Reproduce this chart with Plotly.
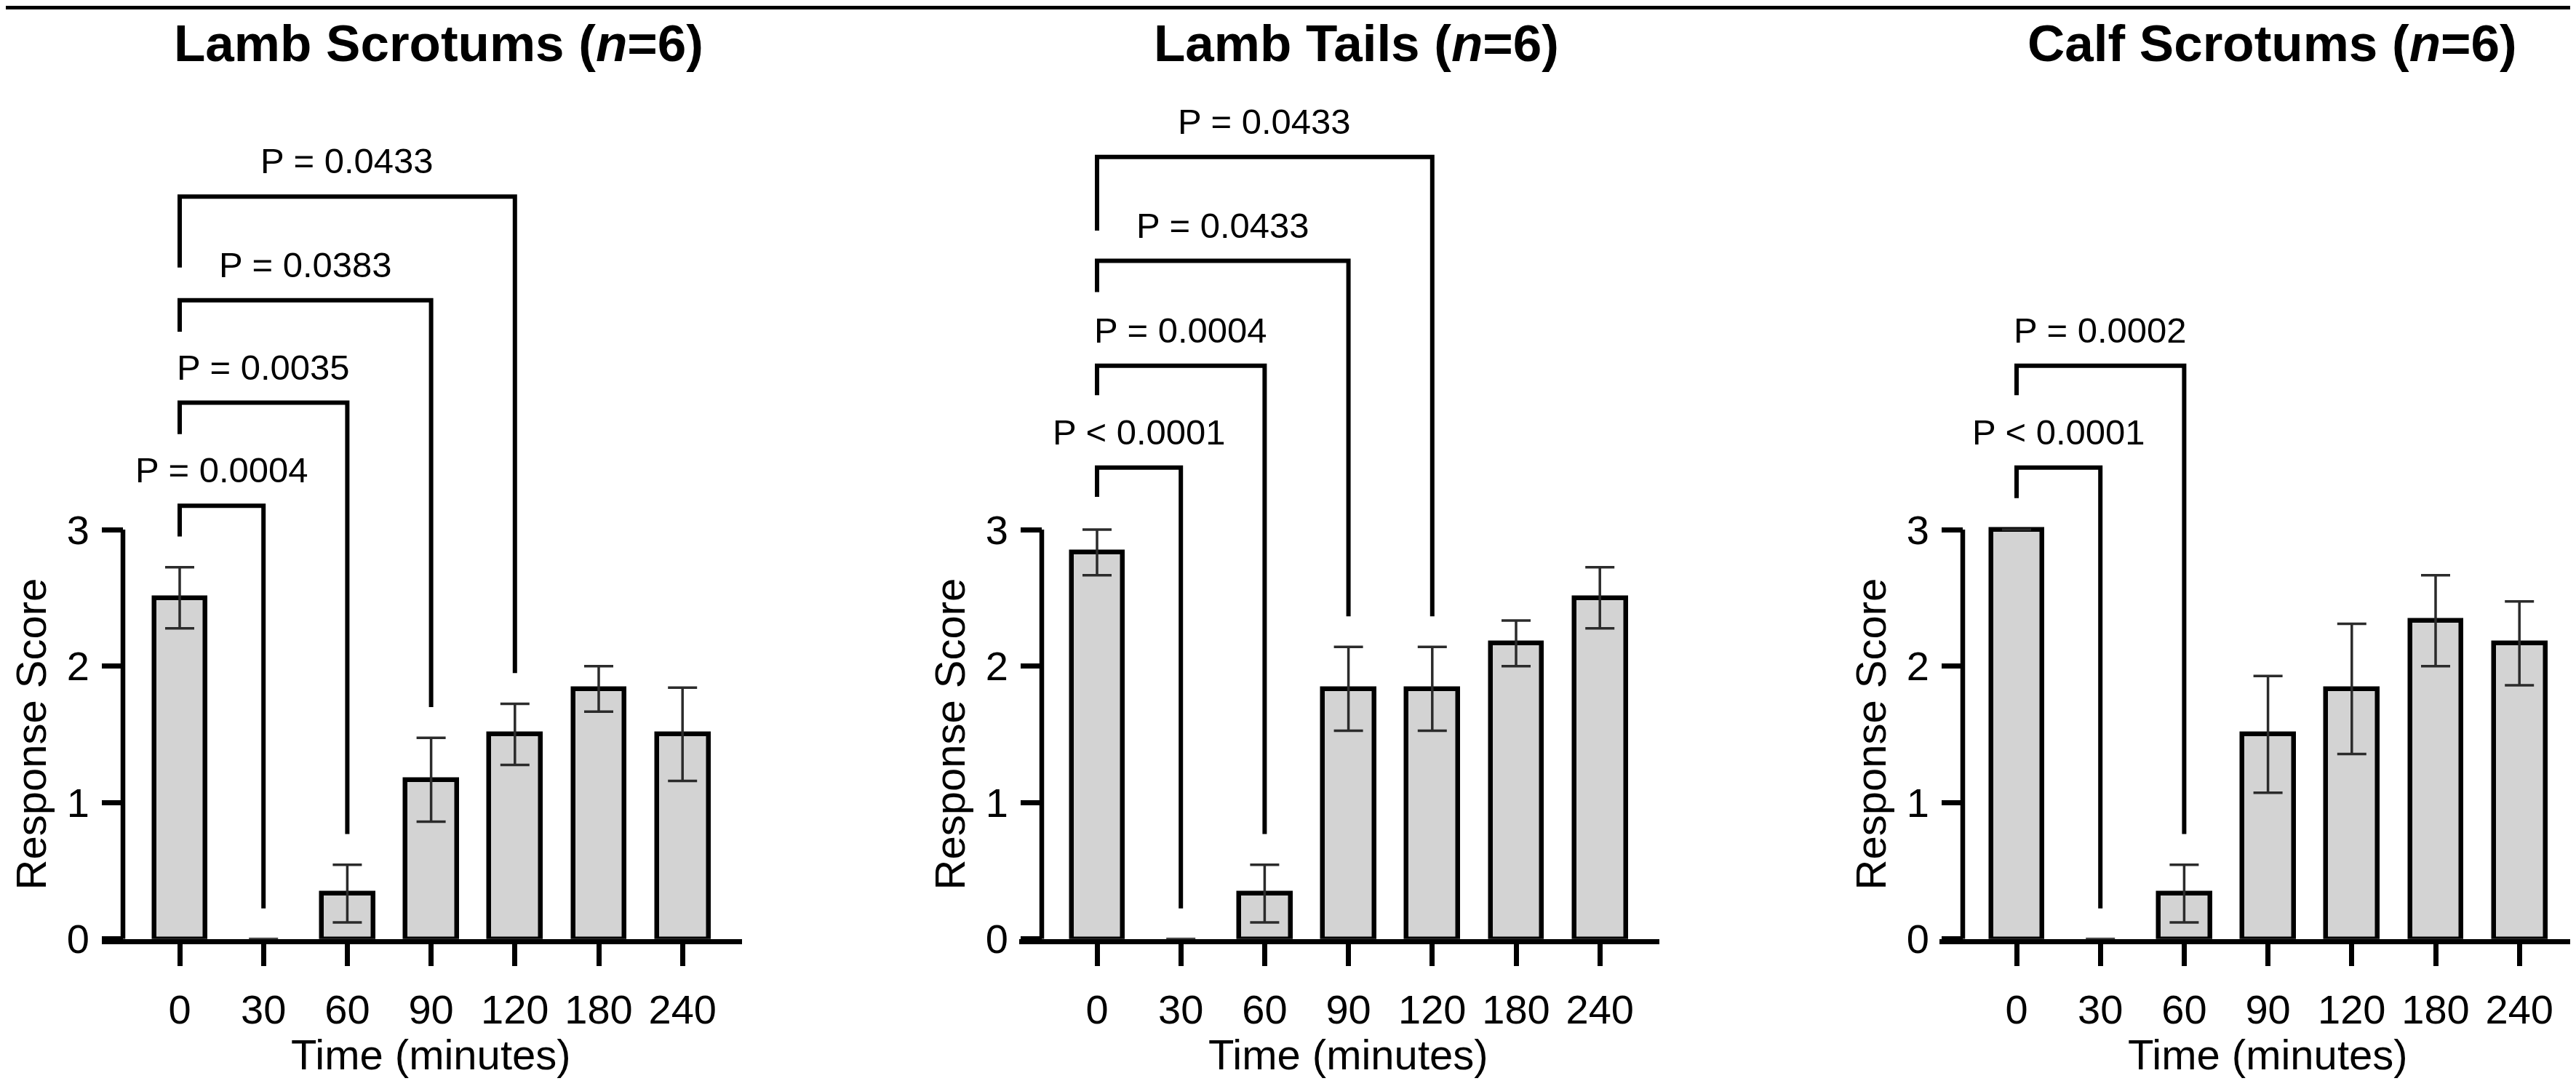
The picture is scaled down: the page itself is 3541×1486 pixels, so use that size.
import plotly.graph_objects as go

# ---------------- data ----------------
times = ["0", "30", "60", "90", "120", "180", "240"]

titles = ["<b>Lamb Scrotums (<i>n</i>=6)</b>",
          "<b>Lamb Tails (<i>n</i>=6)</b>",
          "<b>Calf Scrotums (<i>n</i>=6)</b>"]

lamb_scrotum_mean = [2.5, 0.0, 0.333, 1.167, 1.5, 1.833, 1.5]
lamb_scrotum_sem = [0.224, 0.0, 0.211, 0.307, 0.224, 0.167, 0.342]

lamb_tail_mean = [2.833, 0.0, 0.333, 1.833, 1.833, 2.167, 2.5]
lamb_tail_sem = [0.167, 0.0, 0.211, 0.307, 0.307, 0.167, 0.224]

calf_scrotum_mean = [3.0, 0.0, 0.333, 1.5, 1.833, 2.333, 2.167]
calf_scrotum_sem = [0.0, 0.0, 0.211, 0.428, 0.477, 0.333, 0.307]

# comparisons against time 0: (index compared, label)
lamb_scrotum_p = [(1, "P = 0.0004"), (2, "P = 0.0035"), (3, "P = 0.0383"), (4, "P = 0.0433")]
lamb_tail_p = [(1, "P < 0.0001"), (2, "P = 0.0004"), (3, "P = 0.0433"), (4, "P = 0.0433")]
calf_scrotum_p = [(1, "P < 0.0001"), (2, "P = 0.0002")]

y_ticks = [0, 1, 2, 3]

# ---------------- layout geometry ----------------
TGT_W, TGT_H = 3541, 1486            # target picture size
VIEW_H = 1518                        # effective page height that gets fitted into the picture
PAGE_MARGIN = 8                      # default body margin of the page
W, H = TGT_W - 2 * PAGE_MARGIN, VIEW_H - 2 * PAGE_MARGIN
VS = VIEW_H / TGT_H                  # vertical stretch to compensate
FONT = "Liberation Sans, Arial, Helvetica, sans-serif"

# bracket geometry (data units): bracket tops and where the left legs end
bracket_tops = [[3.175, 3.93, 4.68, 5.44], [3.455, 4.20, 4.97, 5.73], [3.455, 4.20]]
bracket_left_end = [[2.95, 3.70, 4.45, 4.92], [3.24, 3.985, 4.74, 5.19], [3.23, 3.985]]
leg_gap = 0.225
label_gap = 0.26

# target pixel positions per panel: x-axis line start, y-axis, first bar centre, x-axis end
panels_px = [(140, 169, 247, 1020), (1401, 1432, 1508, 2281), (2666, 2698, 2772, TGT_W - PAGE_MARGIN)]
spacing = 115.2
y0_px, y3_px = 1291, 728


def fx(p):
    return (p - PAGE_MARGIN) / W


def fy(p):
    return 1 - (p * VS - PAGE_MARGIN) / H


means = [lamb_scrotum_mean, lamb_tail_mean, calf_scrotum_mean]
sems = [lamb_scrotum_sem, lamb_tail_sem, calf_scrotum_sem]
pvals = [lamb_scrotum_p, lamb_tail_p, calf_scrotum_p]

# value at the top of the figure so that 0 and 3 land on their target pixels
ytop = 3.0 * (1 - fy(y0_px)) / (fy(y3_px) - fy(y0_px))

fig = go.Figure()
shapes = []
annotations = []
xpos = list(range(len(times)))

for i in range(3):
    xs, yax_px, c0, xe = panels_px[i]
    xn = "x" if i == 0 else f"x{i+1}"
    yn = "y" if i == 0 else f"y{i+1}"
    xl = "xaxis" if i == 0 else f"xaxis{i+1}"
    yl = "yaxis" if i == 0 else f"yaxis{i+1}"

    fig.add_trace(go.Bar(
        x=xpos, y=means[i], xaxis=xn, yaxis=yn,
        width=0.616,
        marker=dict(color="#d3d3d3",
                    line=dict(color="black", width=[6.5 if m > 0 else 0 for m in means[i]])),
        error_y=dict(type="data", array=sems[i], visible=True,
                     color="#2b2b2b", thickness=3.5, width=20),
        showlegend=False, hoverinfo="skip",
    ))

    fig.layout[xl] = dict(
        domain=[fx(xs), fx(xe)],
        range=[(xs - c0) / spacing, (xe - c0) / spacing],
        anchor=yn,
        tickmode="array", tickvals=xpos, ticktext=times,
        ticks="outside", ticklen=30, tickwidth=6.5, tickcolor="black",
        showline=True, linewidth=6.5, linecolor="black",
        showgrid=False, zeroline=False,
        tickfont=dict(family=FONT, size=56, color="black"),
        ticklabelstandoff=12,
        fixedrange=True,
    )
    fig.layout[yl] = dict(
        domain=[fy(y0_px), 1],
        range=[0, ytop],
        anchor="free", position=fx(yax_px),
        tickmode="array", tickvals=y_ticks,
        ticks="outside", ticklen=29, tickwidth=6.5, tickcolor="black",
        showline=False, showgrid=False, zeroline=False,
        tickfont=dict(family=FONT, size=56, color="black"),
        ticklabelstandoff=6,
        fixedrange=True,
    )

    # y-axis line from 0 up to the last tick
    shapes.append(dict(type="line", xref="paper", yref=yn,
                       x0=fx(yax_px), x1=fx(yax_px), y0=y_ticks[0], y1=y_ticks[-1],
                       line=dict(color="black", width=6.5)))

    # significance brackets
    for k, (j, lab) in enumerate(pvals[i]):
        top = bracket_tops[i][k]
        lend = bracket_left_end[i][k]
        rend = means[i][j] + sems[i][j] + leg_gap
        path = f"M {xpos[0]},{lend} L {xpos[0]},{top} L {xpos[j]},{top} L {xpos[j]},{rend}"
        shapes.append(dict(type="path", xref=xn, yref=yn, path=path,
                           line=dict(color="black", width=6)))
        annotations.append(dict(xref=xn, yref=yn, x=(xpos[0] + xpos[j]) / 2,
                                y=top + label_gap, text=lab, showarrow=False,
                                xanchor="center", yanchor="middle",
                                font=dict(family=FONT, size=49, color="black")))

    # panel title
    annotations.append(dict(xref="paper", yref="paper", x=fx((yax_px + xe) / 2 + 8), y=fy(59),
                            text=titles[i], showarrow=False, xanchor="center",
                            yanchor="middle", font=dict(family=FONT, size=71, color="black")))
    # axis titles
    annotations.append(dict(xref=xn, yref="paper", x=3, y=fy(1450),
                            text="Time (minutes)", showarrow=False, xanchor="center",
                            yanchor="middle", font=dict(family=FONT, size=58, color="black")))
    annotations.append(dict(xref="paper", yref=yn, x=fx(yax_px - 127), y=1.5,
                            text="Response Score", textangle=-90, showarrow=False,
                            xanchor="center", yanchor="middle",
                            font=dict(family=FONT, size=58, color="black")))

# thin black strip along the top edge
shapes.append(dict(type="rect", xref="paper", yref="paper", x0=0, x1=1,
                   y0=1 - 5 / H, y1=1, fillcolor="black", line=dict(width=0)))

fig.update_layout(
    width=W, height=H,
    margin=dict(l=0, r=0, t=0, b=0),
    paper_bgcolor="white", plot_bgcolor="white",
    shapes=shapes, annotations=annotations,
    bargap=0,
)

fig.write_html("out.html", config={"displayModeBar": False})
